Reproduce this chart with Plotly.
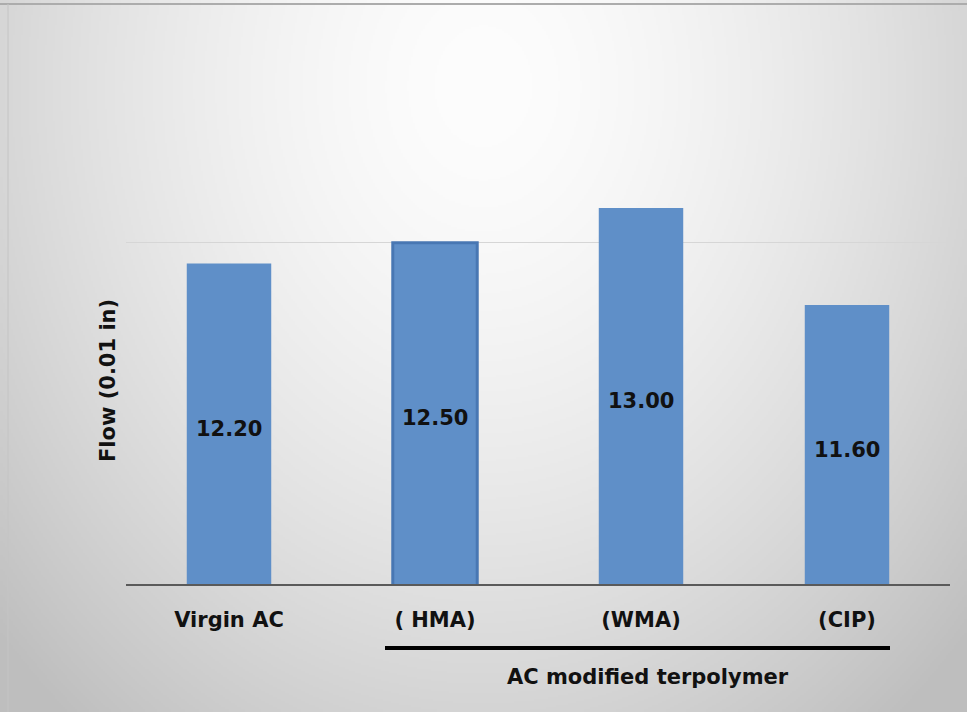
import base64
import struct
import zlib

import numpy as np
import plotly.graph_objects as go

# ---- data ----
categories = ["Virgin AC", "( HMA)", "(WMA)", "(CIP)"]
flow_values = [12.20, 12.50, 13.00, 11.60]
group_label = "AC modified terpolymer"
y_title = "Flow (0.01 in)"

W, H = 967, 712
Y_MIN, Y_MAX = 7.574, 15.57
FONT = "Verdana, DejaVu Sans, sans-serif"


def gradient_png(w, h):
    """Soft radial grey fill, brightest near the top centre."""
    xs = np.linspace(0, 1, w)[None, :]
    ys = np.linspace(0, 1, h)[:, None]
    d = np.sqrt(((xs - 0.5) / 0.62) ** 2 + ((ys - 0.12) / 1.05) ** 2)
    g = np.clip(253 - 54 * d ** 1.6, 190, 253).astype(np.uint8)
    raw = b"".join(b"\x00" + g[r].tobytes() for r in range(h))

    def chunk(tag, data):
        c = struct.pack(">I", len(data)) + tag + data
        return c + struct.pack(">I", zlib.crc32(tag + data) & 0xFFFFFFFF)

    png = b"\x89PNG\r\n\x1a\n"
    png += chunk(b"IHDR", struct.pack(">IIBBBBB", w, h, 8, 0, 0, 0, 0))
    png += chunk(b"IDAT", zlib.compress(raw, 9))
    png += chunk(b"IEND", b"")
    return "data:image/png;base64," + base64.b64encode(png).decode()


bar_fill = "#5f8fc8"
line_colors = [bar_fill, "#4877b3", bar_fill, bar_fill]
line_widths = [0, 3, 0, 0]

fig = go.Figure(
    go.Bar(
        x=categories,
        y=flow_values,
        marker=dict(color=bar_fill, line=dict(color=line_colors, width=line_widths)),
        hoverinfo="skip",
    )
)

# value labels centred in the visible part of each bar
for cat, v in zip(categories, flow_values):
    fig.add_annotation(
        x=cat, y=(v + Y_MIN) / 2, text=f"<b>{v:.2f}</b>", showarrow=False,
        yshift=-5, xanchor="center", yanchor="middle",
        font=dict(family=FONT, size=21, color="#111111"),
    )

x_dom = [126 / W, 950 / W]
y_dom = [(H - 584) / H, (H - 30) / H]

fig.update_layout(
    width=W, height=H,
    margin=dict(l=0, r=0, t=0, b=0),
    paper_bgcolor="#e6e6e6",
    plot_bgcolor="rgba(0,0,0,0)",
    showlegend=False,
    bargap=0.59,
    font=dict(family=FONT, color="#111111"),
    xaxis=dict(
        domain=x_dom, range=[-0.5, 3.5], showgrid=False, zeroline=False,
        showline=True, linecolor="#5a5a5a", linewidth=2,
        ticks="", ticklabelstandoff=16,
        tickfont=dict(family=FONT, size=21, color="#111111"),
        tickvals=categories, ticktext=[f"<b>{c}</b>" for c in categories],
        automargin=False,
    ),
    yaxis=dict(
        domain=y_dom, range=[Y_MIN, Y_MAX], showline=False, zeroline=False,
        tickvals=[12.5], showticklabels=False, showgrid=True,
        gridcolor="#d6d6d6", gridwidth=1, automargin=False,
    ),
    images=[dict(
        source=gradient_png(W // 2, H // 2), xref="paper", yref="paper",
        x=0, y=1, sizex=1, sizey=1, sizing="stretch", layer="below",
        xanchor="left", yanchor="top",
    )],
)

# y-axis title
fig.add_annotation(xref="paper", yref="paper", x=108 / W, y=1 - 381 / H,
                   text=f"<b>{y_title}</b>", showarrow=False, textangle=-90,
                   xanchor="center", yanchor="middle",
                   font=dict(family=FONT, size=21, color="#111111"))

# bracket line under the three modified-binder categories and its caption
fig.add_shape(type="line", xref="paper", yref="paper",
              x0=385 / W, x1=890 / W, y0=1 - 648 / H, y1=1 - 648 / H,
              line=dict(color="#000000", width=4))
fig.add_annotation(xref="paper", yref="paper", x=648 / W, y=1 - 677 / H,
                   text=f"<b>{group_label}</b>", showarrow=False,
                   xanchor="center", yanchor="middle",
                   font=dict(family=FONT, size=21, color="#111111"))

# thin frame along the top and left edges
fig.add_shape(type="line", xref="paper", yref="paper",
              x0=0, x1=1, y0=1 - 4 / H, y1=1 - 4 / H,
              line=dict(color="#acacac", width=2))
fig.add_shape(type="line", xref="paper", yref="paper",
              x0=8 / W, x1=8 / W, y0=0, y1=1 - 4 / H,
              line=dict(color="#c4c4c4", width=1))

fig.write_html("out.html")
